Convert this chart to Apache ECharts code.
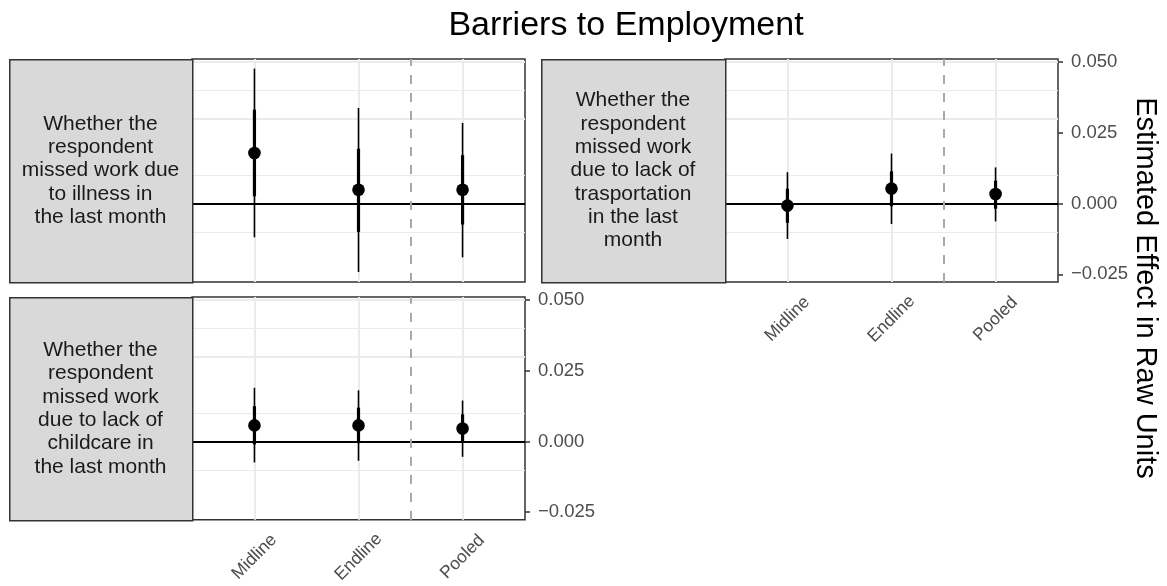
<!DOCTYPE html>
<html>
<head>
<meta charset="utf-8">
<script src="https://cdn.jsdelivr.net/npm/echarts@6/dist/echarts.min.js"></script>
<style>html,body{margin:0;padding:0;background:#fff}#c{width:1167px;height:586px}</style>
</head>
<body>
<div id="c"></div>
<script>
// ---- data ----
const periods = ['Midline', 'Endline', 'Pooled'];
const xPos = [1, 2, 3];
const yTicks = [-0.025, 0, 0.025, 0.05];
const yMinor = [-0.0125, 0.0125, 0.0375];
const splitAt = 2.5;

const titleText = 'Barriers to Employment';
const yTitle = 'Estimated Effect in Raw Units';

const outcomeIllness = 'Whether the\nrespondent\nmissed work due\nto illness in\nthe last month';
const outcomeTransport = 'Whether the\nrespondent\nmissed work\ndue to lack of\ntrasportation\nin the last\nmonth';
const outcomeChildcare = 'Whether the\nrespondent\nmissed work\ndue to lack of\nchildcare in\nthe last month';

const illnessEst  = [0.0179, 0.0049, 0.0049];
const illnessLo95 = [-0.0119, -0.0242, -0.0190];
const illnessHi95 = [0.0477, 0.0338, 0.0285];
const illnessLo90 = [0.0026, -0.0100, -0.0074];
const illnessHi90 = [0.0332, 0.0194, 0.0171];

const transportEst  = [-0.0007, 0.0053, 0.0034];
const transportLo95 = [-0.0125, -0.0072, -0.0063];
const transportHi95 = [0.0111, 0.0177, 0.0128];
const transportLo90 = [-0.0068, -0.0009, -0.0018];
const transportHi90 = [0.0053, 0.0114, 0.0081];

const childcareEst  = [0.0057, 0.0057, 0.0046];
const childcareLo95 = [-0.0074, -0.0068, -0.0054];
const childcareHi95 = [0.0190, 0.0181, 0.0145];
const childcareLo90 = [-0.0010, -0.0006, -0.0004];
const childcareHi90 = [0.0125, 0.0120, 0.0096];

// ---- layout ----
const FONT = '"Liberation Sans", Arial, Helvetica, sans-serif';
const yMin = -0.0277, yMax = 0.0511;
const panels = [
  { left: 192, top: 59, width: 333, height: 223, stripLeft: 9, label: outcomeIllness,
    est: illnessEst, lo95: illnessLo95, hi95: illnessHi95, lo90: illnessLo90, hi90: illnessHi90, showX: false, showY: false },
  { left: 725, top: 59, width: 333, height: 223, stripLeft: 541, label: outcomeTransport,
    est: transportEst, lo95: transportLo95, hi95: transportHi95, lo90: transportLo90, hi90: transportHi90, showX: true, showY: true },
  { left: 192, top: 297, width: 333, height: 223, stripLeft: 9, label: outcomeChildcare,
    est: childcareEst, lo95: childcareLo95, hi95: childcareHi95, lo90: childcareLo90, hi90: childcareHi90, showX: true, showY: true }
];

const grids = [], xAxes = [], yAxes = [], series = [], graphics = [];

function renderItem(params, api) {
  const x = api.value(0);
  const pE = api.coord([x, api.value(1)]);
  const a = api.coord([x, api.value(2)]);
  const b = api.coord([x, api.value(3)]);
  const c = api.coord([x, api.value(4)]);
  const d = api.coord([x, api.value(5)]);
  return {
    type: 'group',
    children: [
      { type: 'line', shape: { x1: a[0], y1: a[1], x2: b[0], y2: b[1] }, style: { stroke: '#000', lineWidth: 1.6 } },
      { type: 'line', shape: { x1: c[0], y1: c[1], x2: d[0], y2: d[1] }, style: { stroke: '#000', lineWidth: 3.2 } },
      { type: 'circle', shape: { cx: pE[0], cy: pE[1], r: 6.3 }, style: { fill: '#000' } }
    ]
  };
}

panels.forEach((p, i) => {
  grids.push({ left: p.left, top: p.top, width: p.width, height: p.height, show: true,
    backgroundColor: '#fff', borderColor: '#333', borderWidth: 1.5, z: 0 });
  xAxes.push({
    type: 'value', gridIndex: i, min: 0.4, max: 3.6,
    axisLine: { show: false }, splitLine: { show: false },
    axisTick: { show: p.showX, customValues: xPos, length: 5, lineStyle: { color: '#333', width: 1.5 } },
    axisLabel: { show: p.showX, customValues: xPos, formatter: v => periods[Math.round(v) - 1] || '',
      rotate: 45, align: 'center', verticalAlign: 'middle', margin: 37,
      fontSize: 17.5, color: '#4d4d4d', fontFamily: FONT }
  });
  yAxes.push({
    type: 'value', gridIndex: i, position: 'right', min: yMin, max: yMax,
    axisLine: { show: false }, splitLine: { show: false },
    axisTick: { show: p.showY, customValues: yTicks, length: 5, lineStyle: { color: '#333', width: 1.5 } },
    axisLabel: { show: p.showY, customValues: yTicks, margin: 13,
      formatter: v => (v < 0 ? '\u2212' : '') + Math.abs(v).toFixed(3),
      fontSize: 18.5, color: '#4d4d4d', fontFamily: FONT }
  });
  // gridlines
  series.push({
    type: 'line', xAxisIndex: i, yAxisIndex: i, data: [], z: 1, silent: true,
    markLine: { silent: true, symbol: 'none', animation: false, label: { show: false },
      data: [
        ...yMinor.map(v => ({ yAxis: v, lineStyle: { color: '#ebebeb', width: 1, type: 'solid' } })),
        ...yTicks.map(v => ({ yAxis: v, lineStyle: { color: '#ebebeb', width: 2, type: 'solid' } })),
        ...xPos.map(v => ({ xAxis: v, lineStyle: { color: '#ebebeb', width: 2, type: 'solid' } }))
      ] }
  });
  // zero line and split dashed line
  series.push({
    type: 'line', xAxisIndex: i, yAxisIndex: i, data: [], z: 2, silent: true,
    markLine: { silent: true, symbol: 'none', animation: false, label: { show: false },
      data: [
        { yAxis: 0, lineStyle: { color: '#000', width: 2.2, type: 'solid' } },
        { xAxis: splitAt, lineStyle: { color: '#a8a8a8', width: 2, type: [9, 9] } }
      ] }
  });
  series.push({
    type: 'custom', xAxisIndex: i, yAxisIndex: i, z: 5, silent: true, animation: false,
    renderItem: renderItem,
    data: xPos.map((x, k) => [x, p.est[k], p.lo95[k], p.hi95[k], p.lo90[k], p.hi90[k]])
  });
  // strip
  const sw = p.left - p.stripLeft;
  graphics.push({ type: 'rect', left: p.stripLeft, top: p.top, z: 10,
    shape: { width: sw, height: p.height },
    style: { fill: '#d9d9d9', stroke: '#333', lineWidth: 1.5 } });
  graphics.push({ type: 'text', x: p.stripLeft + sw / 2, y: p.top + p.height / 2, z: 11,
    style: { text: p.label, fill: '#1a1a1a', font: '21px ' + FONT, lineHeight: 23.3,
      align: 'center', verticalAlign: 'middle' } });
});

graphics.push({ type: 'text', x: 626, y: 26, z: 11,
  style: { text: titleText, fill: '#000', font: '34px ' + FONT, align: 'center', verticalAlign: 'middle' } });
graphics.push({ type: 'text', x: 1145, y: 288, rotation: -Math.PI / 2, z: 11,
  style: { text: yTitle, fill: '#000', font: '29px ' + FONT, align: 'center', verticalAlign: 'middle' } });

const chart = echarts.init(document.getElementById('c'), null, { renderer: 'canvas' });
chart.setOption({
  animation: false,
  grid: grids, xAxis: xAxes, yAxis: yAxes, series: series, graphic: graphics
});
</script>
</body>
</html>
